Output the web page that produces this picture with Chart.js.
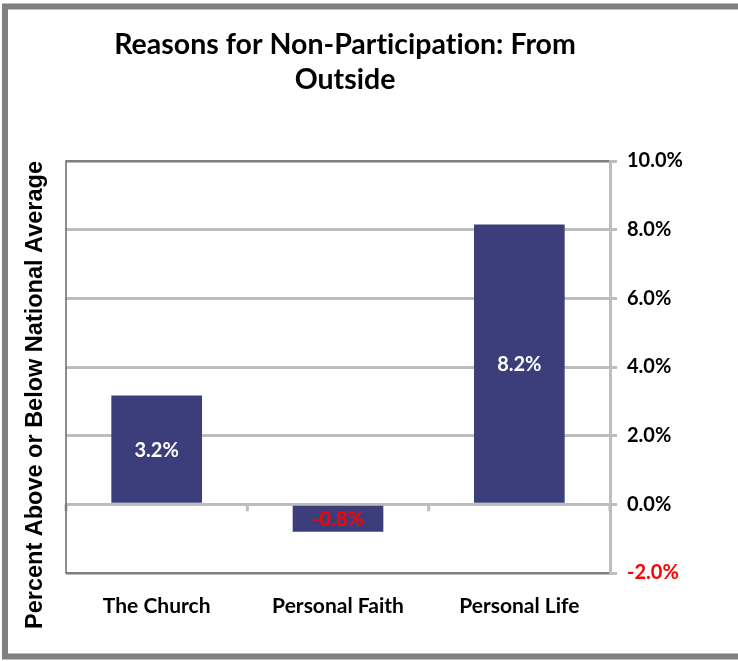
<!DOCTYPE html>
<html><head><meta charset="utf-8">
<script src="https://cdn.jsdelivr.net/npm/chart.js@4.4.1/dist/chart.umd.min.js"></script>
<style>html,body{margin:0;padding:0;background:#fff;overflow:hidden}#wrap{width:738px;height:661px;position:relative}</style>
</head><body><div id="wrap"><canvas id="c" width="738" height="661"></canvas></div>
<script>
const categories = ["The Church", "Personal Faith", "Personal Life"];
const values = [3.17, -0.8, 8.15];
const valueLabels = ["3.2%", "-0.8%", "8.2%"];
const titleLines = ["Reasons for Non-Participation: From", "Outside"];
const yAxisTitle = "Percent Above or Below National Average";
const yMin = -2, yMax = 10, yStep = 2;

const FONT = "Lato";
const GRID = '#BDBDBD';
const frame = {
  id: 'frame',
  beforeDraw(chart) {
    const ctx = chart.ctx;
    ctx.save();
    ctx.fillStyle = '#fff';
    ctx.fillRect(0, 0, chart.width, chart.height);
    ctx.strokeStyle = '#808080';
    ctx.lineWidth = 6;
    ctx.strokeRect(5, 6.5, 760, 650);
    ctx.restore();
  },
  beforeDatasetsDraw(chart) {
    const ctx = chart.ctx, a = chart.chartArea, y = chart.scales.y;
    const y0 = y.getPixelForValue(0);
    ctx.save();
    ctx.strokeStyle = GRID;
    ctx.lineWidth = 3;
    const n = categories.length;
    for (let i = 0; i <= n; i++) {
      const px = a.left + (a.right - a.left) * i / n;
      ctx.beginPath();
      ctx.moveTo(px, y0);
      ctx.lineTo(px, y0 + 7);
      ctx.stroke();
    }
    ctx.restore();
  },
  afterDraw(chart) {
    const ctx = chart.ctx, a = chart.chartArea;
    ctx.save();
    ctx.strokeStyle = '#6a6a6a';
    ctx.lineWidth = 1.5;
    ctx.beginPath();
    ctx.moveTo(a.right - 1, a.top); ctx.lineTo(a.left, a.top);
    ctx.lineTo(a.left, a.bottom); ctx.lineTo(a.right - 1, a.bottom);
    ctx.stroke();
    const meta = chart.getDatasetMeta(0);
    ctx.font = `bold 20px ${FONT}`;
    ctx.textAlign = 'center';
    ctx.textBaseline = 'middle';
    meta.data.forEach((bar, i) => {
      const cy = (bar.y + bar.base) / 2;
      ctx.fillStyle = values[i] < 0 ? '#ff0000' : '#ffffff';
      ctx.fillText(valueLabels[i], bar.x, cy + 1);
    });
    ctx.fillStyle = '#000';
    ctx.font = `bold 28.5px ${FONT}`;
    try { ctx.letterSpacing = '0.01px'; } catch (e) {}
    ctx.fillText(titleLines[0], 345, 45);
    ctx.fillText(titleLines[1], 345, 80);
    try { ctx.letterSpacing = '0px'; } catch (e) {}
    ctx.translate(36, 395);
    ctx.rotate(-Math.PI / 2);
    ctx.font = `bold 23.5px "Liberation Sans"`;
    ctx.fillText(yAxisTitle, 0, 0);
    ctx.restore();
  }
};

new Chart(document.getElementById('c'), {
  type: 'bar',
  data: {
    labels: categories,
    datasets: [{
      data: values,
      backgroundColor: '#3C3E7B',
      barPercentage: 0.5,
      categoryPercentage: 1.0
    }]
  },
  options: {
    responsive: false,
    animation: false,
    devicePixelRatio: 1,
    layout: { padding: { left: 66, top: 161, right: 0, bottom: 0 } },
    plugins: { legend: { display: false }, tooltip: { enabled: false }, title: { display: false } },
    scales: {
      x: {
        grid: { display: false, drawTicks: false },
        border: { display: false },
        ticks: { color: '#000', font: { family: FONT, weight: 'bold', size: 21 }, padding: 21 },
        afterFit(s) { s.height = 88; }
      },
      y: {
        position: 'right',
        min: yMin, max: yMax,
        ticks: {
          stepSize: yStep,
          callback: v => v.toFixed(1) + '%',
          color: c => c.tick && c.tick.value < 0 ? '#ff0000' : '#000',
          font: { family: FONT, weight: 'bold', size: 20 },
          padding: 10
        },
        grid: { color: GRID, lineWidth: 3, tickLength: 7 },
        border: { color: GRID, width: 3 },
        afterFit(s) { s.width = 128; }
      }
    }
  },
  plugins: [frame]
});
</script>
</body></html>
